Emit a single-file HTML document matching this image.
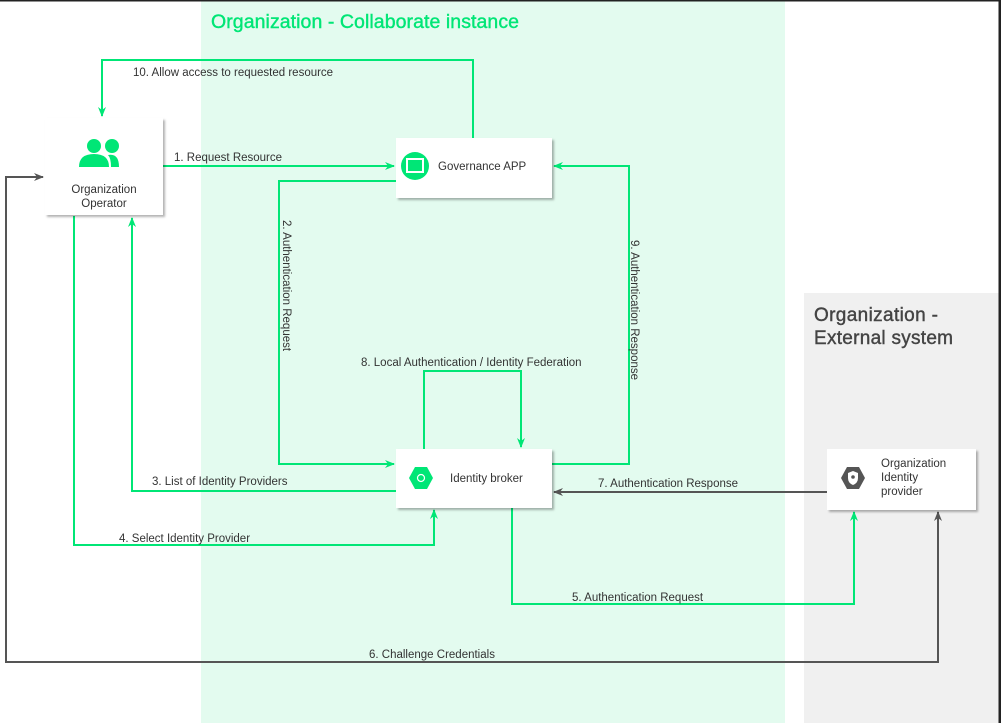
<!DOCTYPE html>
<html><head><meta charset="utf-8"><style>
html,body{margin:0;padding:0;background:#fff;}
svg{display:block;font-family:"Liberation Sans",sans-serif;}
</style></head><body>
<svg width="1001" height="723" viewBox="0 0 1001 723" xmlns="http://www.w3.org/2000/svg">
<defs>
<marker id="g" markerWidth="10" markerHeight="8" refX="9" refY="4" orient="auto" markerUnits="userSpaceOnUse"><path d="M0,0 L10,4 L0,8 L3,4 z" fill="#00e676"/></marker>
<marker id="d" markerWidth="10" markerHeight="8" refX="9" refY="4" orient="auto" markerUnits="userSpaceOnUse"><path d="M0,0 L10,4 L0,8 L3,4 z" fill="#555"/></marker>
<marker id="ds" markerWidth="10" markerHeight="8" refX="1" refY="4" orient="auto" markerUnits="userSpaceOnUse"><path d="M10,0 L0,4 L10,8 L7,4 z" fill="#555"/></marker>
<filter id="sh" x="-10%" y="-10%" width="130%" height="140%"><feDropShadow dx="2" dy="2" stdDeviation="1" flood-color="#000" flood-opacity="0.3"/></filter>
</defs>
<rect x="0" y="0" width="1001" height="723" fill="#fff"/>
<rect x="201" y="0" width="584" height="723" fill="#e3fbef"/>
<rect x="804" y="293" width="195" height="430" fill="#f0f0f0"/>
<rect x="0" y="0" width="1001" height="1.5" fill="#222"/>
<rect x="998.5" y="0" width="2.5" height="723" fill="#222"/>
<text x="211" y="28" font-size="19.5" fill="#00e676" stroke="#00e676" stroke-width="0.4" textLength="308">Organization - Collaborate instance</text>
<text x="814" y="321" font-size="19" fill="#444" stroke="#444" stroke-width="0.4" textLength="124">Organization -</text>
<text x="814" y="344" font-size="19" fill="#444" stroke="#444" stroke-width="0.4" textLength="139">External system</text>

<g fill="none" stroke="#00e676" stroke-width="2">
<path d="M163,166 H394" marker-end="url(#g)"/>
<path d="M473,138 V60 H102 V116" marker-end="url(#g)"/>
<path d="M396,181 H279 V464 H394" marker-end="url(#g)"/>
<path d="M552,464 H629 V166 H554" marker-end="url(#g)"/>
<path d="M424,449 V371 H521 V447" marker-end="url(#g)"/>
<path d="M396,491 H132 V218" marker-end="url(#g)"/>
<path d="M74,216 V545 H434 V510" marker-end="url(#g)"/>
<path d="M512,508 V604 H854 V512" marker-end="url(#g)"/>
</g>
<g fill="none" stroke="#555" stroke-width="2">
<path d="M938,512 V662 H6 V177 H43" marker-start="url(#ds)" marker-end="url(#d)"/>
<path d="M827,492 H554" marker-end="url(#d)"/>
</g>

<g font-size="11.5" fill="#333">
<text x="133" y="76">10. Allow access to requested resource</text>
<text x="174" y="161">1. Request Resource</text>
<text x="361" y="366">8. Local Authentication / Identity Federation</text>
<text x="152" y="485">3. List of Identity Providers</text>
<text x="119" y="542">4. Select Identity Provider</text>
<text x="598" y="487">7. Authentication Response</text>
<text x="572" y="601">5. Authentication Request</text>
<text x="369" y="658">6. Challenge Credentials</text>
<text transform="translate(283,220) rotate(90)">2. Authentication Request</text>
<text transform="translate(631,240) rotate(90)">9. Authentication Response</text>
</g>

<g filter="url(#sh)" fill="#fff">
<rect x="45" y="118" width="118" height="97"/>
<rect x="396" y="138" width="156" height="60"/>
<rect x="396" y="449" width="156" height="59"/>
<rect x="827" y="449" width="149" height="61"/>
</g>
<g fill="#00e676">
<circle cx="94" cy="146" r="7"/><circle cx="112" cy="146" r="7"/>
<path d="M79,167 Q79,154 94,154 Q109,154 109,167 z"/>
<path d="M108,155 Q119,153 119,167 H111 Q111,158 108,155 z"/>
</g>
<text x="104" y="193" font-size="11.5" fill="#333" text-anchor="middle">Organization</text>
<text x="104" y="207" font-size="11.5" fill="#333" text-anchor="middle">Operator</text>
<circle cx="415" cy="166" r="14" fill="#00e676"/>
<rect x="407" y="159" width="16" height="13" fill="none" stroke="#fff" stroke-width="2"/>
<text x="438" y="170" font-size="11.5" fill="#333">Governance APP</text>
<path d="M409,478 L415,467 H427 L433,478 L427,489 H415 z" fill="#00e676"/>
<circle cx="421" cy="478" r="3.5" fill="none" stroke="#fff" stroke-width="1.2"/>
<text x="450" y="482" font-size="11.5" fill="#333">Identity broker</text>
<path d="M841,478 L847,467 H859 L865,478 L859,489 H847 z" fill="#555"/>
<path d="M853,471 L858,473 V478 Q858,483 853,485 Q848,483 848,478 V473 z" fill="#fff"/>
<circle cx="853" cy="477" r="1.8" fill="#555"/>
<text x="881" y="467" font-size="11.5" fill="#333">Organization</text>
<text x="881" y="481" font-size="11.5" fill="#333">Identity</text>
<text x="881" y="495" font-size="11.5" fill="#333">provider</text>
</svg>
</body></html>
